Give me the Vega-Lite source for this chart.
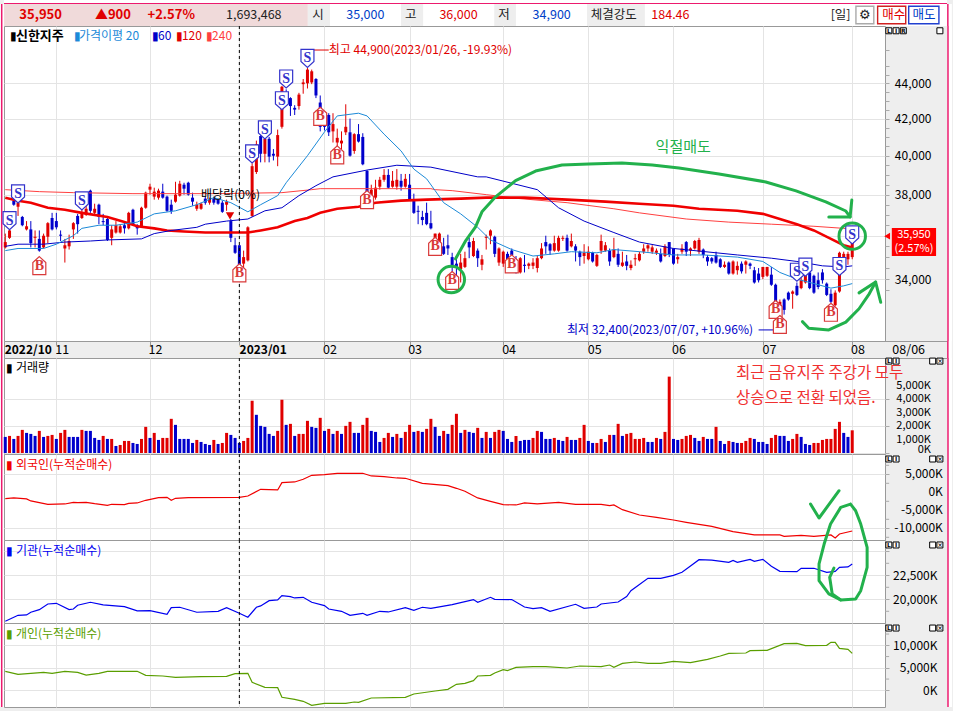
{"$schema":"https://vega.github.io/schema/vega-lite/v6.json","background":"#eeeeee","padding":{"left":-2,"right":0,"top":-2,"bottom":3},"spacing":0,"bounds":"flush",
"resolve":{"scale":{"color":"independent","stroke":"independent","shape":"independent"}},
"config":{"font":"Noto Sans CJK KR","scale":{"continuousPadding":0},"view":{"stroke":"#999999","fill":"#ffffff"},"axis":{"title":null,"domain":false,"labelFontSize":12,"labelColor":"#000000","gridColor":"#e4e4e4","gridOpacity":1,"tickColor":"#aaaaaa","tickSize":4,"labelBound":false,"labelFlush":false,"labelAlign":"right"},"axisX":{"labels":false,"ticks":false,"grid":true},"text":{"font":"Noto Sans CJK KR"}},
"datasets":{
"frameFill":[{"i":-1.475,"i2":-0.3},{"i":221.3,"i2":222.44}],
"frameLine":[{"i":-0.84},{"i":221.5}],
"dash":[{"i":55}],
"candles":[
{"i":0,"o":35450,"h":36100,"l":35400,"c":35700,"v":1200,"d":"down"},{"i":1,"o":35900,"h":36500,"l":35850,"c":36250,"v":1275,"d":"up"},{"i":2,"o":37700,"h":37950,"l":37450,"c":37500,"v":1050,"d":"down"},{"i":3,"o":37400,"h":37750,"l":36950,"c":37600,"v":1275,"d":"up"},{"i":4,"o":36900,"h":36950,"l":36450,"c":36500,"v":1725,"d":"up"},{"i":5,"o":36300,"h":36700,"l":36250,"c":36450,"v":1500,"d":"down"},{"i":6,"o":36300,"h":36700,"l":35450,"c":35650,"v":1425,"d":"down"},{"i":7,"o":35900,"h":36250,"l":35450,"c":35950,"v":1275,"d":"down"},{"i":8,"o":35850,"h":36250,"l":35250,"c":35300,"v":1650,"d":"up"},{"i":9,"o":35450,"h":36100,"l":35400,"c":36000,"v":1200,"d":"down"},
{"i":10,"o":35950,"h":36650,"l":35650,"c":36600,"v":1275,"d":"up"},{"i":11,"o":36850,"h":37100,"l":36250,"c":36300,"v":1350,"d":"up"},{"i":12,"o":36700,"h":37100,"l":36300,"c":36400,"v":1050,"d":"down"},{"i":13,"o":36050,"h":36250,"l":35750,"c":36000,"v":1500,"d":"up"},{"i":14,"o":35400,"h":35850,"l":34750,"c":35550,"v":1725,"d":"up"},{"i":15,"o":35500,"h":36050,"l":35350,"c":35750,"v":1200,"d":"down"},{"i":16,"o":36300,"h":36650,"l":35850,"c":36600,"v":1200,"d":"down"},{"i":17,"o":36950,"h":37050,"l":36100,"c":36550,"v":1200,"d":"down"},{"i":18,"o":36850,"h":37300,"l":36800,"c":37100,"v":1725,"d":"up"},{"i":19,"o":37000,"h":37700,"l":36950,"c":37300,"v":1650,"d":"down"},
{"i":20,"o":38200,"h":38250,"l":37100,"c":37200,"v":1650,"d":"down"},{"i":21,"o":37100,"h":37550,"l":37000,"c":37300,"v":1125,"d":"down"},{"i":22,"o":37500,"h":37550,"l":36550,"c":36900,"v":975,"d":"down"},{"i":23,"o":36700,"h":37050,"l":36500,"c":36650,"v":1275,"d":"up"},{"i":24,"o":36800,"h":36900,"l":35750,"c":35800,"v":1050,"d":"down"},{"i":25,"o":35900,"h":36500,"l":35550,"c":36300,"v":1050,"d":"up"},{"i":26,"o":36150,"h":36700,"l":36100,"c":36500,"v":525,"d":"down"},{"i":27,"o":36150,"h":36550,"l":36100,"c":36450,"v":600,"d":"up"},{"i":28,"o":36500,"h":36650,"l":36100,"c":36350,"v":900,"d":"up"},{"i":29,"o":36350,"h":37150,"l":36300,"c":37100,"v":900,"d":"up"},
{"i":30,"o":37250,"h":37300,"l":36500,"c":36550,"v":750,"d":"down"},{"i":31,"o":36500,"h":36550,"l":36050,"c":36350,"v":675,"d":"down"},{"i":32,"o":36450,"h":37400,"l":36400,"c":37350,"v":1050,"d":"up"},{"i":33,"o":37350,"h":38150,"l":37300,"c":38100,"v":1950,"d":"up"},{"i":34,"o":38250,"h":38550,"l":38000,"c":38400,"v":1125,"d":"down"},{"i":35,"o":37900,"h":38350,"l":37750,"c":38150,"v":1500,"d":"up"},{"i":36,"o":37850,"h":38300,"l":37750,"c":38200,"v":975,"d":"down"},{"i":37,"o":38150,"h":38550,"l":37800,"c":37850,"v":1125,"d":"up"},{"i":38,"o":37900,"h":37950,"l":37150,"c":37200,"v":1125,"d":"up"},{"i":39,"o":37500,"h":37750,"l":37050,"c":37200,"v":2550,"d":"up"},
{"i":40,"o":37650,"h":38650,"l":37600,"c":38000,"v":2100,"d":"down"},{"i":41,"o":37950,"h":38700,"l":37900,"c":38550,"v":1050,"d":"down"},{"i":42,"o":38500,"h":38600,"l":38000,"c":38300,"v":1050,"d":"down"},{"i":43,"o":38600,"h":38650,"l":37950,"c":38000,"v":1050,"d":"down"},{"i":44,"o":37850,"h":38100,"l":37450,"c":37650,"v":750,"d":"down"},{"i":45,"o":37300,"h":37650,"l":37200,"c":37500,"v":975,"d":"up"},{"i":46,"o":37300,"h":37600,"l":37250,"c":37550,"v":825,"d":"down"},{"i":47,"o":37800,"h":37900,"l":37500,"c":37600,"v":675,"d":"down"},{"i":48,"o":37600,"h":37850,"l":37500,"c":37750,"v":600,"d":"down"},{"i":49,"o":37800,"h":37900,"l":37500,"c":37600,"v":975,"d":"up"},
{"i":50,"o":37750,"h":37800,"l":37500,"c":37550,"v":675,"d":"down"},{"i":51,"o":37600,"h":37700,"l":37100,"c":37150,"v":750,"d":"up"},{"i":52,"o":37500,"h":37750,"l":37200,"c":37650,"v":1500,"d":"up"},{"i":53,"o":36700,"h":36800,"l":35700,"c":35900,"v":1350,"d":"down"},{"i":54,"o":35550,"h":35900,"l":35150,"c":35200,"v":1125,"d":"down"},{"i":55,"o":35550,"h":35550,"l":34600,"c":34650,"v":750,"d":"down"},{"i":56,"o":34700,"h":35300,"l":34500,"c":35000,"v":900,"d":"up"},{"i":57,"o":34850,"h":36450,"l":34800,"c":36400,"v":1125,"d":"up"},{"i":58,"o":36950,"h":39600,"l":36900,"c":39450,"v":3900,"d":"up"},{"i":59,"o":39150,"h":40800,"l":39050,"c":40600,"v":2850,"d":"down"},
{"i":60,"o":41050,"h":41200,"l":39650,"c":40100,"v":2025,"d":"down"},{"i":61,"o":40100,"h":41100,"l":39650,"c":40900,"v":1950,"d":"down"},{"i":62,"o":40900,"h":41000,"l":39650,"c":39950,"v":1425,"d":"down"},{"i":63,"o":40100,"h":40350,"l":39750,"c":40000,"v":1275,"d":"down"},{"i":64,"o":39950,"h":41400,"l":39450,"c":41100,"v":1650,"d":"up"},{"i":65,"o":41550,"h":43850,"l":41450,"c":43800,"v":3975,"d":"up"},{"i":66,"o":43400,"h":43650,"l":42750,"c":43150,"v":2100,"d":"down"},{"i":67,"o":43150,"h":43200,"l":42150,"c":42700,"v":2175,"d":"up"},{"i":68,"o":42600,"h":42750,"l":42200,"c":42500,"v":1275,"d":"down"},{"i":69,"o":42700,"h":43450,"l":42500,"c":43350,"v":1425,"d":"up"},
{"i":70,"o":43950,"h":44250,"l":43400,"c":44050,"v":1425,"d":"up"},{"i":71,"o":44000,"h":44900,"l":43700,"c":44800,"v":2400,"d":"up"},{"i":72,"o":44050,"h":44800,"l":43950,"c":44700,"v":1950,"d":"down"},{"i":73,"o":44250,"h":44300,"l":43150,"c":43300,"v":1875,"d":"down"},{"i":74,"o":42900,"h":43300,"l":41300,"c":41550,"v":2625,"d":"up"},{"i":75,"o":41850,"h":42000,"l":41350,"c":41550,"v":1650,"d":"down"},{"i":76,"o":42200,"h":42300,"l":41050,"c":41250,"v":1800,"d":"up"},{"i":77,"o":41300,"h":42300,"l":40700,"c":41700,"v":1425,"d":"down"},{"i":78,"o":40700,"h":41450,"l":40000,"c":40950,"v":1650,"d":"up"},{"i":79,"o":40650,"h":41300,"l":40350,"c":40800,"v":1425,"d":"down"},
{"i":80,"o":41250,"h":42800,"l":41100,"c":41550,"v":2025,"d":"up"},{"i":81,"o":41250,"h":42000,"l":39950,"c":40000,"v":2325,"d":"up"},{"i":82,"o":40250,"h":41200,"l":40100,"c":41150,"v":1500,"d":"down"},{"i":83,"o":41150,"h":41700,"l":40700,"c":40750,"v":1500,"d":"down"},{"i":84,"o":41000,"h":41200,"l":39500,"c":39550,"v":2100,"d":"up"},{"i":85,"o":39200,"h":39250,"l":38000,"c":38100,"v":2625,"d":"up"},{"i":86,"o":37750,"h":38500,"l":37700,"c":38250,"v":1650,"d":"down"},{"i":87,"o":37850,"h":38750,"l":37750,"c":38350,"v":1575,"d":"down"},{"i":88,"o":38400,"h":38900,"l":38250,"c":38750,"v":825,"d":"down"},{"i":89,"o":38750,"h":39300,"l":38650,"c":39000,"v":1125,"d":"up"},
{"i":90,"o":39000,"h":39300,"l":38300,"c":38350,"v":1500,"d":"up"},{"i":91,"o":38400,"h":39200,"l":38350,"c":38700,"v":1200,"d":"down"},{"i":92,"o":38400,"h":39300,"l":38250,"c":38750,"v":1425,"d":"up"},{"i":93,"o":38700,"h":39050,"l":38200,"c":38400,"v":1125,"d":"down"},{"i":94,"o":38400,"h":39050,"l":38350,"c":38800,"v":1575,"d":"up"},{"i":95,"o":38500,"h":39050,"l":37700,"c":37750,"v":2100,"d":"up"},{"i":96,"o":37750,"h":38050,"l":37050,"c":37100,"v":1575,"d":"down"},{"i":97,"o":37200,"h":37450,"l":36550,"c":37150,"v":1650,"d":"up"},{"i":98,"o":36900,"h":37200,"l":36500,"c":36750,"v":1575,"d":"down"},{"i":99,"o":37100,"h":37600,"l":36500,"c":36550,"v":1800,"d":"up"},
{"i":100,"o":36600,"h":37200,"l":36300,"c":36350,"v":2550,"d":"up"},{"i":101,"o":35850,"h":36100,"l":35750,"c":36100,"v":1950,"d":"down"},{"i":102,"o":35450,"h":36150,"l":35400,"c":36100,"v":1275,"d":"down"},{"i":103,"o":35500,"h":35900,"l":35100,"c":35150,"v":1650,"d":"up"},{"i":104,"o":35550,"h":36050,"l":35100,"c":35400,"v":1425,"d":"down"},{"i":105,"o":35000,"h":35200,"l":34300,"c":34600,"v":2100,"d":"up"},{"i":106,"o":34700,"h":34950,"l":34150,"c":34550,"v":2925,"d":"up"},{"i":107,"o":34450,"h":35150,"l":33850,"c":34750,"v":1500,"d":"down"},{"i":108,"o":34550,"h":35250,"l":34500,"c":34950,"v":1725,"d":"up"},{"i":109,"o":35700,"h":35900,"l":34950,"c":35450,"v":1575,"d":"down"},
{"i":110,"o":35050,"h":35900,"l":35000,"c":35750,"v":1500,"d":"down"},{"i":111,"o":35300,"h":35400,"l":34550,"c":34950,"v":1875,"d":"up"},{"i":112,"o":34650,"h":35100,"l":34400,"c":34900,"v":1125,"d":"down"},{"i":113,"o":35900,"h":36050,"l":35350,"c":35950,"v":1575,"d":"up"},{"i":114,"o":36000,"h":36300,"l":35600,"c":36250,"v":1125,"d":"down"},{"i":115,"o":35950,"h":36000,"l":35000,"c":35150,"v":1575,"d":"up"},{"i":116,"o":34750,"h":35450,"l":34600,"c":35400,"v":1725,"d":"up"},{"i":117,"o":34700,"h":35300,"l":34550,"c":35250,"v":1650,"d":"down"},{"i":118,"o":35150,"h":35250,"l":34550,"c":34700,"v":1050,"d":"down"},{"i":119,"o":35300,"h":35400,"l":34700,"c":35100,"v":825,"d":"down"},
{"i":120,"o":34550,"h":35050,"l":34250,"c":34300,"v":1275,"d":"up"},{"i":121,"o":34300,"h":35000,"l":34250,"c":34950,"v":900,"d":"down"},{"i":122,"o":34650,"h":35100,"l":34300,"c":34600,"v":975,"d":"down"},{"i":123,"o":34600,"h":34750,"l":34450,"c":34700,"v":975,"d":"down"},{"i":124,"o":34600,"h":34950,"l":34450,"c":34750,"v":1125,"d":"up"},{"i":125,"o":34500,"h":35050,"l":34300,"c":34950,"v":1650,"d":"up"},{"i":126,"o":34950,"h":35650,"l":34900,"c":35400,"v":1575,"d":"down"},{"i":127,"o":35700,"h":36000,"l":35150,"c":35500,"v":1050,"d":"down"},{"i":128,"o":35600,"h":35650,"l":35100,"c":35300,"v":1050,"d":"down"},{"i":129,"o":35300,"h":36000,"l":35250,"c":35650,"v":1125,"d":"up"},
{"i":130,"o":35300,"h":36000,"l":35250,"c":35900,"v":975,"d":"down"},{"i":131,"o":35850,"h":36000,"l":35750,"c":35900,"v":900,"d":"down"},{"i":132,"o":35900,"h":36050,"l":35250,"c":35300,"v":1200,"d":"up"},{"i":133,"o":35500,"h":36100,"l":35450,"c":35750,"v":975,"d":"down"},{"i":134,"o":35500,"h":35600,"l":34800,"c":35300,"v":975,"d":"down"},{"i":135,"o":35250,"h":35300,"l":34600,"c":35000,"v":1125,"d":"up"},{"i":136,"o":35050,"h":35600,"l":34700,"c":35200,"v":2100,"d":"up"},{"i":137,"o":34900,"h":35500,"l":34850,"c":35250,"v":900,"d":"down"},{"i":138,"o":35200,"h":35250,"l":34750,"c":34800,"v":750,"d":"down"},{"i":139,"o":34600,"h":35150,"l":34550,"c":35100,"v":750,"d":"up"},
{"i":140,"o":35300,"h":36050,"l":35150,"c":35750,"v":1050,"d":"up"},{"i":141,"o":35300,"h":35700,"l":35250,"c":35550,"v":825,"d":"down"},{"i":142,"o":35300,"h":35400,"l":34600,"c":34800,"v":1350,"d":"up"},{"i":143,"o":35000,"h":35900,"l":34950,"c":35350,"v":1350,"d":"down"},{"i":144,"o":35150,"h":35400,"l":34550,"c":34650,"v":2175,"d":"up"},{"i":145,"o":34600,"h":35250,"l":34550,"c":34750,"v":1275,"d":"down"},{"i":146,"o":34800,"h":35100,"l":34400,"c":34600,"v":1425,"d":"up"},{"i":147,"o":34500,"h":34850,"l":34400,"c":34650,"v":1500,"d":"up"},{"i":148,"o":34900,"h":35150,"l":34600,"c":34950,"v":1050,"d":"up"},{"i":149,"o":34850,"h":35250,"l":34800,"c":35150,"v":1050,"d":"up"},
{"i":150,"o":35250,"h":35600,"l":35150,"c":35400,"v":1125,"d":"up"},{"i":151,"o":35400,"h":35600,"l":35250,"c":35550,"v":825,"d":"down"},{"i":152,"o":35250,"h":35550,"l":35150,"c":35450,"v":825,"d":"down"},{"i":153,"o":35200,"h":35400,"l":35100,"c":35300,"v":1125,"d":"up"},{"i":154,"o":35150,"h":35400,"l":34750,"c":34800,"v":1050,"d":"down"},{"i":155,"o":35050,"h":35600,"l":35000,"c":35500,"v":1575,"d":"up"},{"i":156,"o":35700,"h":35700,"l":35000,"c":35100,"v":5700,"d":"up"},{"i":157,"o":35400,"h":35400,"l":34650,"c":34700,"v":1050,"d":"down"},{"i":158,"o":34900,"h":35150,"l":34700,"c":35000,"v":975,"d":"down"},{"i":159,"o":35250,"h":35600,"l":35150,"c":35400,"v":1050,"d":"up"},
{"i":160,"o":35700,"h":35750,"l":35050,"c":35250,"v":1275,"d":"up"},{"i":161,"o":35300,"h":35450,"l":35050,"c":35400,"v":1350,"d":"up"},{"i":162,"o":35400,"h":35800,"l":35350,"c":35750,"v":1125,"d":"down"},{"i":163,"o":35250,"h":35900,"l":35150,"c":35800,"v":900,"d":"down"},{"i":164,"o":35350,"h":35400,"l":34950,"c":35100,"v":1200,"d":"up"},{"i":165,"o":35000,"h":35100,"l":34600,"c":34800,"v":1050,"d":"down"},{"i":166,"o":34950,"h":35000,"l":34700,"c":34800,"v":1050,"d":"down"},{"i":167,"o":35100,"h":35250,"l":34700,"c":34750,"v":1950,"d":"up"},{"i":168,"o":34900,"h":34950,"l":34500,"c":34550,"v":900,"d":"down"},{"i":169,"o":34550,"h":34800,"l":34500,"c":34650,"v":675,"d":"down"},
{"i":170,"o":34750,"h":34800,"l":34200,"c":34250,"v":900,"d":"up"},{"i":171,"o":34250,"h":34850,"l":34200,"c":34800,"v":825,"d":"down"},{"i":172,"o":34400,"h":34800,"l":34200,"c":34600,"v":750,"d":"down"},{"i":173,"o":34700,"h":34800,"l":34250,"c":34350,"v":750,"d":"up"},{"i":174,"o":34650,"h":34850,"l":34250,"c":34800,"v":900,"d":"up"},{"i":175,"o":34700,"h":34750,"l":34450,"c":34600,"v":1125,"d":"up"},{"i":176,"o":34400,"h":34550,"l":33800,"c":33850,"v":1050,"d":"down"},{"i":177,"o":34250,"h":34500,"l":33850,"c":33950,"v":825,"d":"down"},{"i":178,"o":34100,"h":34550,"l":34000,"c":34550,"v":825,"d":"down"},{"i":179,"o":34150,"h":34550,"l":34100,"c":34550,"v":675,"d":"down"},
{"i":180,"o":34200,"h":34550,"l":33700,"c":33750,"v":1125,"d":"up"},{"i":181,"o":33750,"h":33800,"l":32950,"c":33000,"v":1350,"d":"up"},{"i":182,"o":32750,"h":33100,"l":32400,"c":33000,"v":1275,"d":"down"},{"i":183,"o":33100,"h":33150,"l":32450,"c":32650,"v":1275,"d":"down"},{"i":184,"o":33400,"h":33450,"l":33050,"c":33100,"v":900,"d":"down"},{"i":185,"o":33350,"h":33500,"l":32700,"c":33450,"v":1050,"d":"up"},{"i":186,"o":33700,"h":33850,"l":33250,"c":33300,"v":1425,"d":"up"},{"i":187,"o":33600,"h":34150,"l":33550,"c":33950,"v":1200,"d":"down"},{"i":188,"o":33850,"h":34400,"l":33800,"c":34250,"v":675,"d":"down"},{"i":189,"o":34300,"h":34400,"l":33550,"c":33600,"v":600,"d":"down"},
{"i":190,"o":34150,"h":34200,"l":33350,"c":33400,"v":750,"d":"up"},{"i":191,"o":33950,"h":34300,"l":33550,"c":33650,"v":750,"d":"up"},{"i":192,"o":34300,"h":34450,"l":33800,"c":33950,"v":975,"d":"up"},{"i":193,"o":33800,"h":33850,"l":33250,"c":33300,"v":1050,"d":"up"},{"i":194,"o":33350,"h":33550,"l":32950,"c":33000,"v":1050,"d":"up"},{"i":195,"o":32850,"h":33500,"l":32800,"c":33400,"v":1800,"d":"up"},{"i":196,"o":33450,"h":35250,"l":33400,"c":35200,"v":2325,"d":"up"},{"i":197,"o":34550,"h":35250,"l":34300,"c":35150,"v":1500,"d":"down"},{"i":198,"o":34900,"h":35250,"l":34650,"c":35150,"v":1200,"d":"down"},{"i":199,"o":35000,"h":36000,"l":34900,"c":35950,"v":1693,"d":"up"}],
"ma240":[{"i":0,"p":38250},{"i":8,"p":38150},{"i":16,"p":38100},{"i":30,"p":38050},{"i":50,"p":38050},{"i":65,"p":38100},{"i":72,"p":38250},{"i":74,"p":38300},{"i":100,"p":38300},{"i":101,"p":38250},{"i":105,"p":38200},{"i":113,"p":38000},{"i":121,"p":37800},{"i":132,"p":37600},{"i":143,"p":37300},{"i":149,"p":37100},{"i":160,"p":36800},{"i":170,"p":36650},{"i":180,"p":36550},{"i":190,"p":36450},{"i":197,"p":36350},{"i":199,"p":36300}],
"ma120":[{"i":0,"p":37850},{"i":3,"p":37700},{"i":6,"p":37600},{"i":10,"p":37350},{"i":14,"p":37250},{"i":18,"p":37100},{"i":24,"p":36900},{"i":28,"p":36650},{"i":31,"p":36450},{"i":35,"p":36350},{"i":38,"p":36250},{"i":42,"p":36200},{"i":47,"p":36150},{"i":57,"p":36150},{"i":60,"p":36250},{"i":64,"p":36400},{"i":68,"p":36700},{"i":71,"p":36850},{"i":74,"p":37100},{"i":78,"p":37300},{"i":83,"p":37400},{"i":87,"p":37600},{"i":93,"p":37700},{"i":99,"p":37750},{"i":107,"p":37800},{"i":113,"p":37850},{"i":122,"p":37850},{"i":132,"p":37750},{"i":141,"p":37650},{"i":149,"p":37550},{"i":157,"p":37450},{"i":163,"p":37300},{"i":172,"p":37200},{"i":178,"p":37050},{"i":182,"p":36800},{"i":186,"p":36550},{"i":190,"p":36250},{"i":194,"p":35850},{"i":197,"p":35550},{"i":199,"p":35450}],
"ma60":[{"i":0,"p":35500},{"i":3,"p":35600},{"i":9,"p":35600},{"i":14,"p":35700},{"i":20,"p":35750},{"i":24,"p":35800},{"i":32,"p":35850},{"i":35,"p":36100},{"i":39,"p":36250},{"i":45,"p":36400},{"i":47,"p":36550},{"i":52,"p":36700},{"i":57,"p":36800},{"i":61,"p":37200},{"i":65,"p":37350},{"i":69,"p":37950},{"i":73,"p":38450},{"i":77,"p":38900},{"i":85,"p":39250},{"i":92,"p":39500},{"i":100,"p":39400},{"i":111,"p":38900},{"i":113,"p":38900},{"i":125,"p":38250},{"i":130,"p":37350},{"i":136,"p":36700},{"i":143,"p":36150},{"i":149,"p":35700},{"i":157,"p":35400},{"i":172,"p":35100},{"i":180,"p":34950},{"i":186,"p":34800},{"i":192,"p":34600},{"i":197,"p":34550},{"i":199,"p":34600}],
"ma20":[{"i":0,"p":35300},{"i":3,"p":35400},{"i":9,"p":35400},{"i":12,"p":35600},{"i":16,"p":36000},{"i":18,"p":36350},{"i":22,"p":36500},{"i":26,"p":36500},{"i":31,"p":36650},{"i":35,"p":37050},{"i":40,"p":37200},{"i":45,"p":37500},{"i":49,"p":37850},{"i":53,"p":37600},{"i":57,"p":37150},{"i":60,"p":37500},{"i":64,"p":37950},{"i":66,"p":38600},{"i":71,"p":40000},{"i":75,"p":41270},{"i":78,"p":42150},{"i":83,"p":42300},{"i":85,"p":42150},{"i":89,"p":41150},{"i":93,"p":40250},{"i":96,"p":39300},{"i":99,"p":38800},{"i":101,"p":38200},{"i":103,"p":37600},{"i":107,"p":37050},{"i":111,"p":36400},{"i":114,"p":35800},{"i":119,"p":35350},{"i":124,"p":35050},{"i":129,"p":35150},{"i":133,"p":35250},{"i":139,"p":35200},{"i":143,"p":35350},{"i":149,"p":35250},{"i":157,"p":35100},{"i":164,"p":35100},{"i":172,"p":35000},{"i":178,"p":34800},{"i":182,"p":34300},{"i":186,"p":34000},{"i":190,"p":33800},{"i":194,"p":33600},{"i":197,"p":33700},{"i":199,"p":33800}],
"signals":[{"i":3,"p":38040,"t":"S"},{"i":1,"p":36720,"t":"S"},{"i":18,"p":37690,"t":"S"},{"i":58,"p":40090,"t":"S"},{"i":61,"p":41380,"t":"S"},{"i":65,"p":43000,"t":"S"},{"i":66,"p":44250,"t":"S"},{"i":71,"p":45470,"t":"S"},{"i":186,"p":34310,"t":"S"},{"i":188,"p":34540,"t":"S"},{"i":196,"p":34570,"t":"S"},{"i":199,"p":36040,"t":"S"},{"i":8,"p":34610,"t":"B"},{"i":55,"p":34280,"t":"B"},{"i":74,"p":42130,"t":"B"},{"i":78,"p":40040,"t":"B"},{"i":85,"p":37750,"t":"B"},{"i":101,"p":35500,"t":"B"},{"i":105,"p":33940,"t":"B"},{"i":119,"p":34690,"t":"B"},{"i":181,"p":32670,"t":"B"},{"i":182,"p":32030,"t":"B"},{"i":194,"p":32550,"t":"B"}],
"greenMain":[{"k":"a","n":1,"i":105.8,"p":34920},{"k":"a","n":2,"i":108.2,"p":35770},{"k":"a","n":3,"i":110.5,"p":36420},{"k":"a","n":4,"i":112,"p":37150},{"k":"a","n":5,"i":115.2,"p":37890},{"k":"a","n":6,"i":119.9,"p":38710},{"k":"a","n":7,"i":124.6,"p":39200},{"k":"a","n":8,"i":130.8,"p":39510},{"k":"a","n":9,"i":137.1,"p":39570},{"k":"a","n":10,"i":144.9,"p":39620},{"k":"a","n":11,"i":152,"p":39510},{"k":"a","n":12,"i":158.3,"p":39360},{"k":"a","n":13,"i":167.7,"p":39050},{"k":"a","n":14,"i":178.7,"p":38640},{"k":"a","n":15,"i":185.8,"p":38190},{"k":"a","n":16,"i":192.8,"p":37640},{"k":"a","n":17,"i":197.5,"p":37190},{"k":"a","n":18,"i":198.5,"p":36900},{"k":"h","n":1,"i":198.9,"p":37730},{"k":"h","n":2,"i":198.5,"p":36900},{"k":"h","n":3,"i":193.5,"p":36900},{"k":"b","n":1,"i":187.3,"p":32150},{"k":"b","n":2,"i":188.8,"p":31870},{"k":"b","n":3,"i":193.5,"p":31800},{"k":"b","n":4,"i":197.5,"p":32130},{"k":"b","n":5,"i":200.6,"p":32700},{"k":"b","n":6,"i":203,"p":33350},{"k":"b","n":7,"i":204.5,"p":33870},{"k":"c","n":1,"i":200.6,"p":33390},{"k":"c","n":2,"i":204.5,"p":33870},{"k":"c","n":3,"i":205.7,"p":32980}],
"greenRings":[{"i":199,"p":35980},{"i":104.8,"p":33980}],
"mainText":[{"label":"▮","i":1.1,"p":46840,"tone":"black"},{"label":"▮","i":16.1,"p":46840,"tone":"sky"},{"label":"가격이평 20","i":17.3,"p":46840,"tone":"sky"},{"label":"▮","i":34.4,"p":46840,"tone":"navy"},{"label":"60","i":35.9,"p":46840,"tone":"navy"},{"label":"▮","i":40.1,"p":46840,"tone":"red"},{"label":"120","i":41.5,"p":46840,"tone":"red"},{"label":"▮","i":47.2,"p":46840,"tone":"pink"},{"label":"240","i":48.6,"p":46840,"tone":"pink"},{"label":"최고 44,900(2023/01/26, -19.93%)","i":76,"p":45970,"tone":"red"},{"label":"최저 32,400(2023/07/07, +10.96%)","i":132,"p":31800,"tone":"navy"},{"label":"배당락(0%)","i":46,"p":37990,"tone":"black"}],
"leaders":[{"i":72,"i2":76,"p":45970,"tone":"red"},{"i":177,"i2":181,"p":31800,"tone":"navy"}],
"months":[{"label":"2022/10","i":5.4,"w":"bold"},{"label":"11","i":13.4,"w":"normal"},{"label":"12","i":35.3,"w":"normal"},{"label":"2023/01","i":60.6,"w":"bold"},{"label":"02","i":76.3,"w":"normal"},{"label":"03","i":96.3,"w":"normal"},{"label":"04","i":118.4,"w":"normal"},{"label":"05","i":138.5,"w":"normal"},{"label":"06","i":158.3,"w":"normal"},{"label":"07","i":179.6,"w":"normal"},{"label":"08","i":200.4,"w":"normal"},{"label":"08/06","i":212.3,"w":"normal"}],
"chips":[{"i":207.6,"t":"L"},{"i":209.3,"t":"I"},{"i":217.9,"t":""},{"i":219.6,"t":"×"}],
"chipsMain":[{"i":207.6,"t":"L"},{"i":209.3,"t":"I"},{"i":211,"t":"R"},{"i":219.6,"t":""}],
"volumeLabels":[{"label":"5,000K","i":217.5,"v":5000},{"label":"4,000K","i":217.5,"v":4000},{"label":"3,000K","i":217.5,"v":3000},{"label":"2,000K","i":217.5,"v":2000},{"label":"1,000K","i":217.5,"v":1000},{"label":"0K","i":217.5,"v":200}],
"foreignLabels":[{"label":"5,000K","i":220.3,"v":5000},{"label":"0K","i":220.3,"v":0},{"label":"-5,000K","i":220.3,"v":-5000},{"label":"-10,000K","i":220.3,"v":-10000}],
"foreign":[{"i":0,"v":-1760},{"i":2,"v":-1570},{"i":5,"v":-1850},{"i":6,"v":-2400},{"i":10,"v":-3330},{"i":14,"v":-3240},{"i":16,"v":-2780},{"i":17,"v":-2870},{"i":19,"v":-2780},{"i":21,"v":-3150},{"i":24,"v":-3610},{"i":25,"v":-3330},{"i":28,"v":-3430},{"i":29,"v":-3060},{"i":31,"v":-2960},{"i":33,"v":-2220},{"i":36,"v":-1480},{"i":38,"v":-1390},{"i":39,"v":-2220},{"i":40,"v":-1670},{"i":43,"v":-1480},{"i":55,"v":-1390},{"i":57,"v":-1020},{"i":60,"v":830},{"i":64,"v":650},{"i":65,"v":2690},{"i":68,"v":2870},{"i":70,"v":3610},{"i":72,"v":4720},{"i":75,"v":4910},{"i":78,"v":5280},{"i":84,"v":5280},{"i":86,"v":4540},{"i":89,"v":4350},{"i":92,"v":3980},{"i":94,"v":3890},{"i":98,"v":2500},{"i":104,"v":1850},{"i":106,"v":1110},{"i":108,"v":280},{"i":111,"v":-1570},{"i":114,"v":-2500},{"i":117,"v":-3430},{"i":120,"v":-3520},{"i":122,"v":-2960},{"i":125,"v":-3240},{"i":130,"v":-2780},{"i":134,"v":-3330},{"i":140,"v":-3330},{"i":142,"v":-3700},{"i":143,"v":-3520},{"i":145,"v":-4820},{"i":149,"v":-6300},{"i":153,"v":-6950},{"i":157,"v":-7690},{"i":160,"v":-8330},{"i":166,"v":-9450},{"i":171,"v":-10930},{"i":176,"v":-11850},{"i":182,"v":-11850},{"i":183,"v":-12220},{"i":187,"v":-11950},{"i":190,"v":-12220},{"i":194,"v":-11850},{"i":195,"v":-12690},{"i":196,"v":-11580},{"i":199,"v":-10740}],
"inst":[{"i":0,"v":17710},{"i":3,"v":18330},{"i":5,"v":18370},{"i":6,"v":18650},{"i":8,"v":18920},{"i":10,"v":19510},{"i":12,"v":19580},{"i":15,"v":18920},{"i":16,"v":18990},{"i":17,"v":19380},{"i":20,"v":19690},{"i":23,"v":19410},{"i":28,"v":19240},{"i":31,"v":18790},{"i":34,"v":18820},{"i":38,"v":18440},{"i":39,"v":19130},{"i":41,"v":19170},{"i":45,"v":18650},{"i":50,"v":18750},{"i":52,"v":19130},{"i":55,"v":18540},{"i":57,"v":18130},{"i":59,"v":19170},{"i":60,"v":19310},{"i":62,"v":19860},{"i":64,"v":19930},{"i":65,"v":20380},{"i":67,"v":20280},{"i":68,"v":20140},{"i":70,"v":20210},{"i":72,"v":19690},{"i":75,"v":19340},{"i":76,"v":18990},{"i":79,"v":18750},{"i":81,"v":18330},{"i":84,"v":18540},{"i":85,"v":18330},{"i":88,"v":18750},{"i":90,"v":18680},{"i":94,"v":19130},{"i":96,"v":18850},{"i":98,"v":19170},{"i":100,"v":19060},{"i":105,"v":19440},{"i":110,"v":19970},{"i":111,"v":19690},{"i":114,"v":20210},{"i":115,"v":20000},{"i":119,"v":19970},{"i":122,"v":19200},{"i":124,"v":19030},{"i":126,"v":19130},{"i":128,"v":18750},{"i":134,"v":19480},{"i":136,"v":19060},{"i":139,"v":19200},{"i":140,"v":19510},{"i":144,"v":19720},{"i":146,"v":20280},{"i":147,"v":20900},{"i":151,"v":22190},{"i":154,"v":22190},{"i":157,"v":22500},{"i":159,"v":22810},{"i":161,"v":23470},{"i":163,"v":24130},{"i":166,"v":24090},{"i":170,"v":23850},{"i":171,"v":24060},{"i":172,"v":23850},{"i":175,"v":24160},{"i":176,"v":23960},{"i":178,"v":24160},{"i":180,"v":23440},{"i":182,"v":22910},{"i":186,"v":22880},{"i":187,"v":23230},{"i":190,"v":23230},{"i":193,"v":22810},{"i":195,"v":22910},{"i":196,"v":23330},{"i":198,"v":23370},{"i":199,"v":23680}],
"retail":[{"i":0,"v":4220},{"i":3,"v":3550},{"i":9,"v":4000},{"i":11,"v":3770},{"i":14,"v":4220},{"i":17,"v":4000},{"i":19,"v":3400},{"i":22,"v":3770},{"i":24,"v":4220},{"i":29,"v":4220},{"i":31,"v":4220},{"i":33,"v":3330},{"i":37,"v":3180},{"i":40,"v":2890},{"i":46,"v":3030},{"i":52,"v":3110},{"i":54,"v":3700},{"i":57,"v":3770},{"i":58,"v":1780},{"i":61,"v":670},{"i":64,"v":590},{"i":65,"v":-1550},{"i":68,"v":-2000},{"i":70,"v":-2440},{"i":72,"v":-3330},{"i":75,"v":-2890},{"i":80,"v":-2890},{"i":82,"v":-2590},{"i":83,"v":-2660},{"i":86,"v":-1700},{"i":94,"v":-1550},{"i":96,"v":-810},{"i":101,"v":-150},{"i":104,"v":220},{"i":106,"v":1330},{"i":108,"v":1550},{"i":110,"v":2150},{"i":111,"v":3180},{"i":114,"v":3330},{"i":115,"v":3850},{"i":117,"v":4590},{"i":118,"v":4370},{"i":120,"v":5110},{"i":124,"v":5250},{"i":127,"v":5250},{"i":132,"v":4960},{"i":135,"v":5400},{"i":140,"v":5250},{"i":142,"v":5620},{"i":143,"v":5110},{"i":145,"v":5990},{"i":148,"v":6290},{"i":151,"v":5990},{"i":154,"v":5990},{"i":157,"v":6440},{"i":161,"v":6140},{"i":165,"v":6880},{"i":168,"v":7620},{"i":170,"v":8210},{"i":174,"v":8290},{"i":175,"v":8810},{"i":179,"v":8880},{"i":183,"v":10360},{"i":186,"v":10430},{"i":188,"v":9920},{"i":193,"v":9990},{"i":194,"v":10660},{"i":195,"v":10660},{"i":196,"v":9320},{"i":198,"v":9100},{"i":199,"v":8210}],
"greenOval":[{"k":"o","n":1,"i":198.6,"v":29920},{"k":"o","n":2,"i":196.3,"v":29580},{"k":"o","n":3,"i":193.9,"v":27840},{"k":"o","n":4,"i":192.4,"v":25760},{"k":"o","n":5,"i":191.2,"v":23680},{"k":"o","n":6,"i":191.2,"v":21940},{"k":"o","n":7,"i":193.5,"v":20560},{"k":"o","n":8,"i":196.3,"v":19930},{"k":"o","n":9,"i":199.8,"v":20030},{"k":"o","n":10,"i":201,"v":20900},{"k":"o","n":11,"i":202.5,"v":23330},{"k":"o","n":12,"i":202.5,"v":25410},{"k":"o","n":13,"i":201,"v":27840},{"k":"o","n":14,"i":199.8,"v":29230},{"k":"o","n":15,"i":198.6,"v":29920},{"k":"q","n":1,"i":194.7,"v":23260},{"k":"q","n":2,"i":193.7,"v":22290},{"k":"q","n":3,"i":194.3,"v":20560},{"k":"q","n":4,"i":196.3,"v":19930}],
"greenCheck":[{"n":1,"i":189.2,"v":-3250},{"n":2,"i":191.2,"v":-7140},{"n":3,"i":195.9,"v":440}],
"headerCells":[{"i":-0.3,"i2":71.1,"kind":"quote"},{"i":71.1,"i2":76.3,"kind":"label"},{"i":93,"i2":98.2,"kind":"label"},{"i":114.9,"i2":120,"kind":"label"},{"i":136.7,"i2":150.3,"kind":"label"}],
"headerButtons":[{"i":199.9,"i2":204.1,"kind":"gear"},{"i":205,"i2":211.6,"kind":"buy"},{"i":212.3,"i2":219.4,"kind":"sell"}],
"headerText":[{"label":"35,950","i":8.3,"tone":"red","w":"bold"},{"label":"▲900","i":25.3,"tone":"red","w":"bold"},{"label":"+2.57%","i":39,"tone":"red","w":"bold"},{"label":"1,693,468","i":58.4,"tone":"black","w":"normal"},{"label":"시","i":73.5,"tone":"black","w":"normal"},{"label":"35,000","i":84.6,"tone":"blue","w":"normal"},{"label":"고","i":95.3,"tone":"black","w":"normal"},{"label":"36,000","i":106.5,"tone":"red","w":"normal"},{"label":"저","i":117.2,"tone":"black","w":"normal"},{"label":"34,900","i":128.4,"tone":"blue","w":"normal"},{"label":"체결강도","i":143,"tone":"black","w":"normal"},{"label":"184.46","i":156.3,"tone":"red","w":"normal"},{"label":"[일]","i":196.3,"tone":"black","w":"normal"},{"label":"⚙","i":202,"tone":"black","w":"normal"},{"label":"매수","i":208.8,"tone":"red","w":"normal"},{"label":"매도","i":215.9,"tone":"blue","w":"normal"}]
},
"vconcat":[
{"width":943,"height":4,"view":{"stroke":null,"fill":"#ffffff"},"data":{"values":[{}]},"mark":{"type":"rule","opacity":0},"encoding":{}},
{"width":943,"height":1,"view":{"stroke":null,"fill":"#ec1a6e"},"data":{"values":[{}]},"mark":{"type":"rule","opacity":0},"encoding":{}},
{"width":943,"height":22,"view":{"stroke":null,"fill":"#ffffff"},
"encoding":{"x":{"field":"i","type":"quantitative","scale":{"domain":[-0.3,221.3],"nice":false,"zero":false},"axis":null}},
"layer":[
{"data":{"name":"frameFill"},"mark":{"type":"rect","color":"#ffffff"},"encoding":{"x2":{"field":"i2"}}},
{"data":{"name":"frameLine"},"mark":{"type":"rule","color":"#ec1a6e","strokeWidth":1.5},"encoding":{}},
{"data":{"name":"headerCells"},"mark":{"type":"rect"},"encoding":{"x2":{"field":"i2"},"color":{"field":"kind","scale":{"domain":["quote","label","red","blue","black"],"range":["#f0dada","#eeeeee","#e00000","#0040c8","#222222"]},"legend":null}}},
{"data":{"name":"headerButtons"},"mark":{"type":"rect","fill":"#ffffff","strokeWidth":1.4},"encoding":{"x2":{"field":"i2"},"y":{"datum":0.1,"type":"quantitative","scale":{"domain":[0,1],"nice":false},"axis":null},"y2":{"datum":0.9},"stroke":{"field":"kind","scale":{"domain":["gear","buy","sell"],"range":["#aaaaaa","#d02020","#2040d0"]},"legend":null}}},
{"data":{"name":"headerText"},"transform":[{"filter":"datum.w=='normal'"}],"mark":{"type":"text","fontSize":12.5},"encoding":{"text":{"field":"label"},"color":{"field":"tone","scale":{"domain":["quote","label","red","blue","black"],"range":["#f0dada","#eeeeee","#e00000","#0040c8","#222222"]},"legend":null}}},
{"data":{"name":"headerText"},"transform":[{"filter":"datum.w=='bold'"}],"mark":{"type":"text","fontSize":13,"fontWeight":"bold"},"encoding":{"text":{"field":"label"},"color":{"field":"tone","scale":{"domain":["quote","label","red","blue","black"],"range":["#f0dada","#eeeeee","#e00000","#0040c8","#222222"]},"legend":null}}}
]},
{"width":881,"height":315,
"encoding":{"x":{"field":"i","type":"quantitative","scale":{"domain":[-0.3,206.7],"nice":false,"zero":false},"axis":{"values":[12,34,55,75,95,117,137,157,178,199]}}},
"layer":[
{"data":{"name":"frameFill"},"mark":{"type":"rect","color":"#ffffff"},"encoding":{"x2":{"field":"i2"}}},
{"data":{"name":"frameLine"},"mark":{"type":"rule","color":"#ec1a6e","strokeWidth":1.5},"encoding":{}},
{"data":{"name":"candles"},"mark":{"type":"rule","strokeWidth":1},"encoding":{"y":{"field":"l","type":"quantitative","scale":{"type":"log","domain":[31340,47447],"nice":false},"axis":{"orient":"right","labelOverlap":false,"values":[33500,34000,34500,35000,35500,36000,36500,37000,37500,38000,38500,39000,39500,40000,40500,41000,41500,42000,42500,43000,43500,44000,44500,45000,46000],"labelPadding":42,"labelExpr":"datum.value%2000==0 && datum.value!=36000 && datum.value<45000 ? format(datum.value,',') : ''","gridOpacity":{"condition":{"test":"datum.value%2000==0 && datum.value<45000","value":1},"value":0}}},"y2":{"field":"h"},"color":{"condition":{"test":"datum.c>=datum.o","value":"#e00000"},"value":"#0000cc"}}},
{"data":{"name":"candles"},"mark":{"type":"bar","size":3},"encoding":{"y":{"field":"o","type":"quantitative"},"y2":{"field":"c"},"color":{"condition":{"test":"datum.c>=datum.o","value":"#e00000"},"value":"#0000cc"}}},
{"data":{"name":"ma240"},"mark":{"type":"line","color":"#ff4040","strokeWidth":1},"encoding":{"y":{"field":"p","type":"quantitative"}}},
{"data":{"name":"ma120"},"mark":{"type":"line","color":"#f00000","strokeWidth":2.6},"encoding":{"y":{"field":"p","type":"quantitative"}}},
{"data":{"name":"ma60"},"mark":{"type":"line","color":"#0000c8","strokeWidth":1},"encoding":{"y":{"field":"p","type":"quantitative"}}},
{"data":{"name":"ma20"},"mark":{"type":"line","color":"#1c8ad8","strokeWidth":1},"encoding":{"y":{"field":"p","type":"quantitative"}}},
{"data":{"name":"dash"},"mark":{"type":"rule","color":"#000000","strokeDash":[3,3],"strokeWidth":1},"encoding":{}},
{"data":{"name":"leaders"},"mark":{"type":"rule","strokeWidth":1},"encoding":{"x2":{"field":"i2"},"y":{"field":"p","type":"quantitative"},"color":{"field":"tone","scale":{"domain":["black","sky","navy","red","pink","S","B"],"range":["#000000","#1c8ad8","#0000c8","#e00000","#ff4040","#3333cc","#d93a3a"]},"legend":null}}},
{"data":{"name":"signals"},"mark":{"type":"point","fill":"#ffffff","fillOpacity":1,"opacity":1,"strokeWidth":1.2,"size":324},"encoding":{"y":{"field":"p","type":"quantitative"},"shape":{"field":"t","scale":{"domain":["S","B"],"range":["M-0.72,-1L0.72,-1L0.72,0.35L0,1L-0.72,0.35Z","M0,-1L0.72,-0.35L0.72,1L-0.72,1L-0.72,-0.35Z"]},"legend":null},"stroke":{"field":"t","scale":{"domain":["S","B"],"range":["#3333cc","#d93a3a"]},"legend":null}}},
{"data":{"name":"signals"},"mark":{"type":"text","font":"Liberation Serif","fontWeight":"bold","fontSize":14},"encoding":{"y":{"field":"p","type":"quantitative"},"text":{"field":"t"},"color":{"field":"t","scale":{"domain":["black","sky","navy","red","pink","S","B"],"range":["#000000","#1c8ad8","#0000c8","#e00000","#ff4040","#3333cc","#d93a3a"]},"legend":null}}},
{"data":{"values":[{"i":52.8,"p":36950}]},"mark":{"type":"point","shape":"triangle-down","filled":true,"color":"#e00000","opacity":1,"size":70},"encoding":{"y":{"field":"p","type":"quantitative"}}},
{"data":{"name":"mainText"},"mark":{"type":"text","align":"left","fontSize":12},"encoding":{"y":{"field":"p","type":"quantitative"},"text":{"field":"label"},"color":{"field":"tone","scale":{"domain":["black","sky","navy","red","pink","S","B"],"range":["#000000","#1c8ad8","#0000c8","#e00000","#ff4040","#3333cc","#d93a3a"]},"legend":null}}},
{"data":{"values":[{"label":"신한지주","i":2.5,"p":46840}]},"mark":{"type":"text","align":"left","fontSize":13,"fontWeight":"bold","color":"#000000"},"encoding":{"y":{"field":"p","type":"quantitative"},"text":{"field":"label"}}},
{"data":{"values":[{"label":"익절매도","i":152.8,"p":40480}]},"mark":{"type":"text","align":"left","fontSize":15,"color":"#22b14c"},"encoding":{"y":{"field":"p","type":"quantitative"},"text":{"field":"label"}}},
{"data":{"name":"greenMain"},"mark":{"type":"line","color":"#22b14c","strokeWidth":3,"strokeCap":"round","strokeJoin":"round"},"encoding":{"y":{"field":"p","type":"quantitative"},"detail":{"field":"k"},"order":{"field":"n"}}},
{"data":{"name":"greenRings"},"mark":{"type":"point","shape":"circle","stroke":"#22b14c","strokeWidth":3,"opacity":1,"size":700},"encoding":{"y":{"field":"p","type":"quantitative"}}},
{"data":{"values":[{"i":208.3,"i2":218.7,"p":36370,"p2":35050}]},"mark":{"type":"rect","color":"#ff0000"},"encoding":{"x2":{"field":"i2"},"y":{"field":"p","type":"quantitative"},"y2":{"field":"p2"}}},
{"data":{"values":[{"i":207.2,"p":35980}]},"mark":{"type":"point","shape":"triangle-left","filled":true,"color":"#ff0000","opacity":1,"size":45},"encoding":{"y":{"field":"p","type":"quantitative"}}},
{"data":{"values":[{"label":"35,950","i":213.5,"p":36050},{"label":"(2.57%)","i":213.5,"p":35360}]},"mark":{"type":"text","color":"#ffffff","fontSize":11},"encoding":{"y":{"field":"p","type":"quantitative"},"text":{"field":"label"}}},
{"data":{"name":"chipsMain"},"mark":{"type":"point","shape":"square","fill":"#ffffff","stroke":"#000000","strokeWidth":1,"opacity":1,"size":36},"encoding":{"y":{"datum":47150,"type":"quantitative"}}},
{"data":{"name":"chipsMain"},"mark":{"type":"text","font":"DejaVu Sans","fontSize":6,"fontWeight":"bold","color":"#000000"},"encoding":{"y":{"datum":47150,"type":"quantitative"},"text":{"field":"t"}}}
]},
{"width":943,"height":17,"view":{"stroke":"#999999","fill":"#eeeeee"},
"encoding":{"x":{"field":"i","type":"quantitative","scale":{"domain":[-0.3,221.3],"nice":false,"zero":false},"axis":{"orient":"top","values":[12,34,55,75,95,117,137,157,178,199],"grid":false,"ticks":true,"tickSize":-4,"tickColor":"#999999","labels":false}}},
"layer":[
{"data":{"name":"frameFill"},"mark":{"type":"rect","color":"#ffffff"},"encoding":{"x2":{"field":"i2"}}},
{"data":{"name":"frameLine"},"mark":{"type":"rule","color":"#ec1a6e","strokeWidth":1.5},"encoding":{}},
{"data":{"name":"months"},"transform":[{"filter":"datum.w=='normal'"}],"mark":{"type":"text","fontSize":12.5,"color":"#000000"},"encoding":{"text":{"field":"label"}}},
{"data":{"name":"months"},"transform":[{"filter":"datum.w=='bold'"}],"mark":{"type":"text","fontSize":12,"fontWeight":"bold","color":"#000000"},"encoding":{"text":{"field":"label"}}}
]},
{"width":881,"height":96,
"encoding":{"x":{"field":"i","type":"quantitative","scale":{"domain":[-0.3,206.7],"nice":false,"zero":false},"axis":{"values":[12,34,55,75,95,117,137,157,178,199]}}},
"layer":[
{"data":{"name":"frameFill"},"mark":{"type":"rect","color":"#ffffff"},"encoding":{"x2":{"field":"i2"}}},
{"data":{"name":"frameLine"},"mark":{"type":"rule","color":"#ec1a6e","strokeWidth":1.5},"encoding":{}},
{"data":{"name":"candles"},"mark":{"type":"bar","size":3},"encoding":{"y":{"field":"v","type":"quantitative","stack":null,"scale":{"domain":[-75,7090],"nice":false,"zero":false},"axis":{"orient":"right","labels":false,"values":[0,1000,2000,3000,4000,5000]}},"color":{"field":"d","scale":{"domain":["up","down"],"range":["#e00000","#0000cc"]},"legend":null}}},
{"data":{"name":"dash"},"mark":{"type":"rule","color":"#000000","strokeDash":[3,3],"strokeWidth":1},"encoding":{}},
{"data":{"name":"volumeLabels"},"mark":{"type":"text","align":"right","fontSize":11,"color":"#000000"},"encoding":{"y":{"field":"v","type":"quantitative"},"text":{"field":"label"}}},
{"data":{"values":[{"label":"▮","i":1.1,"v":6340}]},"mark":{"type":"text","fontSize":12,"color":"#000000"},"encoding":{"y":{"field":"v","type":"quantitative"},"text":{"field":"label"}}},
{"data":{"values":[{"label":"거래량","i":2.5,"v":6340}]},"mark":{"type":"text","align":"left","fontSize":12,"color":"#000000"},"encoding":{"y":{"field":"v","type":"quantitative"},"text":{"field":"label"}}},
{"data":{"values":[{"label":"최근 금유지주 주강가 모두","i":171.7,"v":5970},{"label":"상승으로 전환 되었음.","i":171.7,"v":4100}]},"mark":{"type":"text","align":"left","fontSize":15.5,"color":"#f03030"},"encoding":{"y":{"field":"v","type":"quantitative"},"text":{"field":"label"}}},
{"data":{"name":"chips"},"mark":{"type":"point","shape":"square","fill":"#ffffff","stroke":"#000000","strokeWidth":1,"opacity":1,"size":36},"encoding":{"y":{"datum":6860,"type":"quantitative"}}},
{"data":{"name":"chips"},"mark":{"type":"text","font":"DejaVu Sans","fontSize":6,"fontWeight":"bold","color":"#000000"},"encoding":{"y":{"datum":6860,"type":"quantitative"},"text":{"field":"t"}}}
]},
{"width":881,"height":86,
"encoding":{"x":{"field":"i","type":"quantitative","scale":{"domain":[-0.3,206.7],"nice":false,"zero":false},"axis":{"values":[12,34,55,75,95,117,137,157,178,199]}}},
"layer":[
{"data":{"name":"frameFill"},"mark":{"type":"rect","color":"#ffffff"},"encoding":{"x2":{"field":"i2"}}},
{"data":{"name":"frameLine"},"mark":{"type":"rule","color":"#ec1a6e","strokeWidth":1.5},"encoding":{}},
{"data":{"name":"foreign"},"mark":{"type":"line","color":"#f00000","strokeWidth":1.2},"encoding":{"y":{"field":"v","type":"quantitative","scale":{"domain":[-13250,10639],"nice":false,"zero":false},"axis":{"orient":"right","labels":false,"values":[-10000,-5000,0,5000]}}}},
{"data":{"name":"foreignLabels"},"mark":{"type":"text","align":"right","fontSize":12,"color":"#000000"},"encoding":{"y":{"field":"v","type":"quantitative"},"text":{"field":"label"}}},
{"data":{"values":[{"i":207.2,"v":-12500},{"i":207.2,"v":-7500},{"i":207.2,"v":-2500},{"i":207.2,"v":2500},{"i":207.2,"v":7500}]},"mark":{"type":"point","shape":"M-1,0L1,0","stroke":"#aaaaaa","strokeWidth":1,"opacity":1,"size":16},"encoding":{"y":{"field":"v","type":"quantitative"}}},
{"data":{"name":"dash"},"mark":{"type":"rule","color":"#000000","strokeDash":[3,3],"strokeWidth":1},"encoding":{}},
{"data":{"values":[{"label":"▮","i":1.1,"v":7580}]},"mark":{"type":"text","fontSize":12,"color":"#f00000"},"encoding":{"y":{"field":"v","type":"quantitative"},"text":{"field":"label"}}},
{"data":{"values":[{"label":"외국인(누적순매수)","i":2.5,"v":7580}]},"mark":{"type":"text","align":"left","fontSize":12,"color":"#f00000"},"encoding":{"y":{"field":"v","type":"quantitative"},"text":{"field":"label"}}},
{"data":{"name":"chips"},"mark":{"type":"point","shape":"square","fill":"#ffffff","stroke":"#000000","strokeWidth":1,"opacity":1,"size":36},"encoding":{"y":{"datum":9250,"type":"quantitative"}}},
{"data":{"name":"chips"},"mark":{"type":"text","font":"DejaVu Sans","fontSize":6,"fontWeight":"bold","color":"#000000"},"encoding":{"y":{"datum":9250,"type":"quantitative"},"text":{"field":"t"}}},
{"data":{"name":"greenCheck"},"mark":{"type":"line","color":"#22b14c","strokeWidth":3,"strokeCap":"round","strokeJoin":"round"},"encoding":{"y":{"field":"v","type":"quantitative"},"order":{"field":"n"}}}
]},
{"width":881,"height":83,
"encoding":{"x":{"field":"i","type":"quantitative","scale":{"domain":[-0.3,206.7],"nice":false,"zero":false},"axis":{"values":[12,34,55,75,95,117,137,157,178,199]}}},
"layer":[
{"data":{"name":"frameFill"},"mark":{"type":"rect","color":"#ffffff"},"encoding":{"x2":{"field":"i2"}}},
{"data":{"name":"frameLine"},"mark":{"type":"rule","color":"#ec1a6e","strokeWidth":1.5},"encoding":{}},
{"data":{"name":"inst"},"mark":{"type":"line","color":"#0000f0","strokeWidth":1.2},"encoding":{"y":{"field":"v","type":"quantitative","scale":{"domain":[17530,26179],"nice":false,"zero":false},"axis":{"orient":"right","values":[20000,22500,25000],"labelPadding":48,"labelExpr":"datum.value<25000 ? format(datum.value,',')+'K' : ''"}}}},
{"data":{"values":[{"i":207.2,"v":18750},{"i":207.2,"v":21250},{"i":207.2,"v":23750}]},"mark":{"type":"point","shape":"M-1,0L1,0","stroke":"#aaaaaa","strokeWidth":1,"opacity":1,"size":16},"encoding":{"y":{"field":"v","type":"quantitative"}}},
{"data":{"name":"dash"},"mark":{"type":"rule","color":"#000000","strokeDash":[3,3],"strokeWidth":1},"encoding":{}},
{"data":{"values":[{"label":"▮","i":1.1,"v":25060}]},"mark":{"type":"text","fontSize":12,"color":"#0000f0"},"encoding":{"y":{"field":"v","type":"quantitative"},"text":{"field":"label"}}},
{"data":{"values":[{"label":"기관(누적순매수)","i":2.5,"v":25060}]},"mark":{"type":"text","align":"left","fontSize":12,"color":"#0000f0"},"encoding":{"y":{"field":"v","type":"quantitative"},"text":{"field":"label"}}},
{"data":{"name":"chips"},"mark":{"type":"point","shape":"square","fill":"#ffffff","stroke":"#000000","strokeWidth":1,"opacity":1,"size":36},"encoding":{"y":{"datum":25660,"type":"quantitative"}}},
{"data":{"name":"chips"},"mark":{"type":"text","font":"DejaVu Sans","fontSize":6,"fontWeight":"bold","color":"#000000"},"encoding":{"y":{"datum":25660,"type":"quantitative"},"text":{"field":"t"}}},
{"data":{"name":"greenOval"},"mark":{"type":"line","color":"#22b14c","strokeWidth":3,"strokeCap":"round","strokeJoin":"round"},"encoding":{"y":{"field":"v","type":"quantitative"},"detail":{"field":"k"},"order":{"field":"n"}}}
]},
{"width":881,"height":84,
"encoding":{"x":{"field":"i","type":"quantitative","scale":{"domain":[-0.3,206.7],"nice":false,"zero":false},"axis":{"values":[12,34,55,75,95,117,137,157,178,199]}}},
"layer":[
{"data":{"name":"frameFill"},"mark":{"type":"rect","color":"#ffffff"},"encoding":{"x2":{"field":"i2"}}},
{"data":{"name":"frameLine"},"mark":{"type":"rule","color":"#ec1a6e","strokeWidth":1.5},"encoding":{}},
{"data":{"name":"retail"},"mark":{"type":"line","color":"#5a9e00","strokeWidth":1.2},"encoding":{"y":{"field":"v","type":"quantitative","scale":{"domain":[-3700,14950],"nice":false,"zero":false},"axis":{"orient":"right","values":[0,5000,10000],"labelPadding":48,"labelExpr":"format(datum.value,',')+'K'"}}}},
{"data":{"values":[{"i":207.2,"v":2500},{"i":207.2,"v":7500},{"i":207.2,"v":12500}]},"mark":{"type":"point","shape":"M-1,0L1,0","stroke":"#aaaaaa","strokeWidth":1,"opacity":1,"size":16},"encoding":{"y":{"field":"v","type":"quantitative"}}},
{"data":{"name":"dash"},"mark":{"type":"rule","color":"#000000","strokeDash":[3,3],"strokeWidth":1},"encoding":{}},
{"data":{"values":[{"label":"▮","i":1.1,"v":12500}]},"mark":{"type":"text","fontSize":12,"color":"#5a9e00"},"encoding":{"y":{"field":"v","type":"quantitative"},"text":{"field":"label"}}},
{"data":{"values":[{"label":"개인(누적순매수)","i":2.5,"v":12500}]},"mark":{"type":"text","align":"left","fontSize":12,"color":"#5a9e00"},"encoding":{"y":{"field":"v","type":"quantitative"},"text":{"field":"label"}}},
{"data":{"name":"chips"},"mark":{"type":"point","shape":"square","fill":"#ffffff","stroke":"#000000","strokeWidth":1,"opacity":1,"size":36},"encoding":{"y":{"datum":13830,"type":"quantitative"}}},
{"data":{"name":"chips"},"mark":{"type":"text","font":"DejaVu Sans","fontSize":6,"fontWeight":"bold","color":"#000000"},"encoding":{"y":{"datum":13830,"type":"quantitative"},"text":{"field":"t"}}}
]}
]}
